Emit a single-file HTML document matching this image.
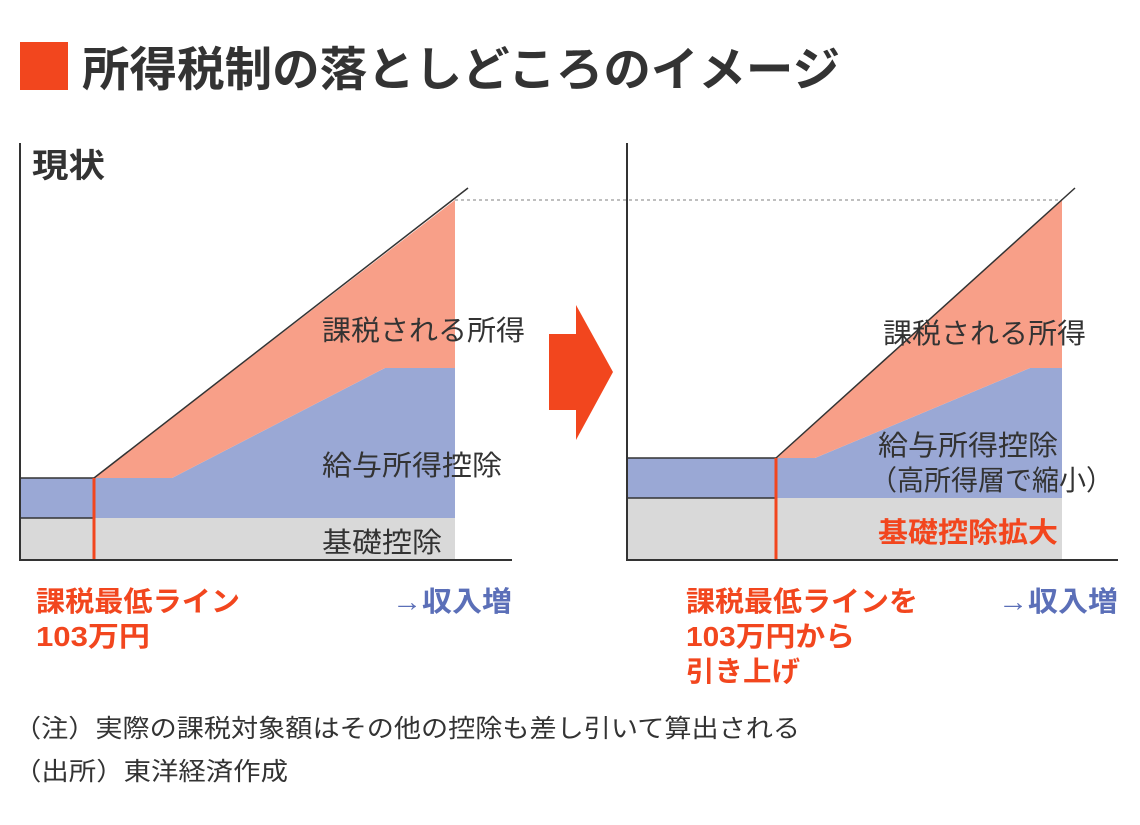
<!DOCTYPE html>
<html><head><meta charset="utf-8"><style>
html,body{margin:0;padding:0;background:#fff;}
body{width:1140px;height:820px;overflow:hidden;}
svg text{font-family:"Liberation Sans","Noto Sans CJK JP",sans-serif;}
</style></head><body>
<svg width="1140" height="820" viewBox="0 0 1140 820" xmlns="http://www.w3.org/2000/svg">
<rect x="20" y="42" width="48" height="48" fill="#f2461e"/>
<text x="82" y="86" font-size="47" font-weight="bold" fill="#333" textLength="758" lengthAdjust="spacingAndGlyphs">所得税制の落としどころのイメージ</text>
<text x="32" y="177" font-size="33" font-weight="bold" fill="#333" textLength="73" lengthAdjust="spacingAndGlyphs">現状</text>

<!-- left chart -->
<rect x="20" y="518" width="435" height="42" fill="#d9d9d9"/>
<polygon points="20,478 172,478 385,368 455,368 455,518 20,518" fill="#9aa8d5"/>
<polygon points="94,478 455,200 455,368 385,368 172,478" fill="#f89f88"/>
<rect x="20" y="478" width="74" height="40" fill="none" stroke="#333" stroke-width="1.5"/>
<line x1="94" y1="478" x2="468" y2="188" stroke="#333" stroke-width="1.5"/>
<line x1="94" y1="478" x2="94" y2="560" stroke="#f2461e" stroke-width="3"/>
<polyline points="20,143 20,560 512,560" fill="none" stroke="#333" stroke-width="2"/>
<text x="322" y="340" font-size="28" fill="#333" textLength="203" lengthAdjust="spacingAndGlyphs">課税される所得</text>
<text x="322" y="475" font-size="28" fill="#333" textLength="180" lengthAdjust="spacingAndGlyphs">給与所得控除</text>
<text x="322" y="552" font-size="28" fill="#333" textLength="120" lengthAdjust="spacingAndGlyphs">基礎控除</text>
<text x="36" y="611" font-size="28" font-weight="bold" fill="#f2461e" textLength="204" lengthAdjust="spacingAndGlyphs">課税最低ライン</text>
<text x="36" y="646" font-size="28" font-weight="bold" fill="#f2461e" textLength="114" lengthAdjust="spacingAndGlyphs">103万円</text>
<text x="392" y="611" font-size="28" font-weight="bold" fill="#5b6fb8" textLength="120" lengthAdjust="spacingAndGlyphs">→収入増</text>

<!-- arrow -->
<rect x="549" y="334" width="30" height="76" fill="#f2461e"/>
<polygon points="576,305 613,372 576,440" fill="#f2461e"/>

<!-- right chart -->
<line x1="455" y1="200" x2="1062" y2="200" stroke="#aaa" stroke-width="1.5" stroke-dasharray="3,3"/>
<rect x="627" y="498" width="435" height="62" fill="#d9d9d9"/>
<polygon points="627,458 815,458 1030,368 1062,368 1062,498 627,498" fill="#9aa8d5"/>
<polygon points="776,458 1062,200 1062,368 1030,368 815,458" fill="#f89f88"/>
<rect x="627" y="458" width="149" height="40" fill="none" stroke="#333" stroke-width="1.5"/>
<line x1="776" y1="458" x2="1075" y2="188" stroke="#333" stroke-width="1.5"/>
<line x1="776" y1="458" x2="776" y2="560" stroke="#f2461e" stroke-width="3"/>
<polyline points="627,143 627,560 1118,560" fill="none" stroke="#333" stroke-width="2"/>
<text x="883" y="343" font-size="28" fill="#333" textLength="203" lengthAdjust="spacingAndGlyphs">課税される所得</text>
<text x="878" y="455" font-size="28" fill="#333" textLength="180" lengthAdjust="spacingAndGlyphs">給与所得控除</text>
<text x="870" y="490" font-size="28" fill="#333" textLength="243" lengthAdjust="spacingAndGlyphs">（高所得層で縮小）</text>
<text x="878" y="542" font-size="28" font-weight="bold" fill="#f2461e" textLength="180" lengthAdjust="spacingAndGlyphs">基礎控除拡大</text>
<text x="686" y="611" font-size="28" font-weight="bold" fill="#f2461e" textLength="232" lengthAdjust="spacingAndGlyphs">課税最低ラインを</text>
<text x="686" y="646" font-size="28" font-weight="bold" fill="#f2461e" textLength="169" lengthAdjust="spacingAndGlyphs">103万円から</text>
<text x="686" y="681" font-size="28" font-weight="bold" fill="#f2461e" textLength="114" lengthAdjust="spacingAndGlyphs">引き上げ</text>
<text x="998" y="611" font-size="28" font-weight="bold" fill="#5b6fb8" textLength="120" lengthAdjust="spacingAndGlyphs">→収入増</text>

<text x="14" y="737" font-size="25" fill="#333" textLength="786" lengthAdjust="spacingAndGlyphs">（注）実際の課税対象額はその他の控除も差し引いて算出される</text>
<text x="14" y="780" font-size="25" fill="#333" textLength="274" lengthAdjust="spacingAndGlyphs">（出所）東洋経済作成</text>
</svg>
</body></html>
